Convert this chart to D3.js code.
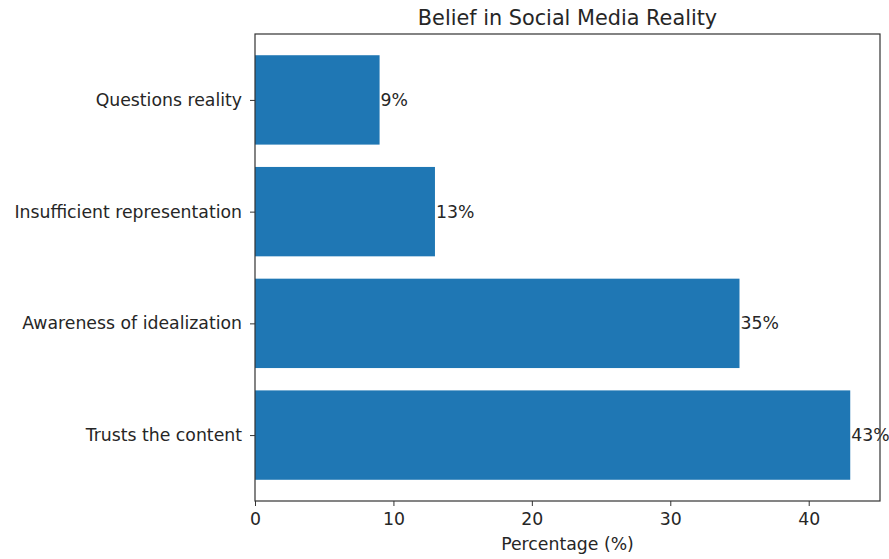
<!DOCTYPE html>
<html><head><meta charset="utf-8">
<script src="https://cdn.jsdelivr.net/npm/d3@7"></script>
<style>body{margin:0;background:#fff}svg{display:block}text{font-family:"DejaVu Sans",sans-serif;fill:#262626}</style>
</head><body>
<script>
const categories = ["Trusts the content","Awareness of idealization","Insufficient representation","Questions reality"];
const values = [43,35,13,9];
const xTicks = [0,10,20,30,40];
const title = "Belief in Social Media Reality";
const xLabel = "Percentage (%)";

const W=889,H=559;
const L=255,R=880,T=34,B=501;
const FS=17.3;
const svg=d3.select("body").append("svg").attr("width",W).attr("height",H);
const xMax=d3.max(values)*1.05;
const x=d3.scaleLinear().domain([0,xMax]).range([L,R]);
const n=categories.length;
const y=d3.scaleLinear().domain([-0.4-0.05*(n-0.2),n-0.6+0.05*(n-0.2)]).range([B,T]);
const bh=0.8;

svg.append("g").selectAll("rect").data(values).join("rect")
 .attr("x",x(0)).attr("y",(d,i)=>y(i+bh/2)).attr("width",d=>x(d)-x(0))
 .attr("height",(d,i)=>y(i-bh/2)-y(i+bh/2)).attr("fill","#1f77b4");

svg.append("g").selectAll("text").data(values).join("text")
 .attr("x",d=>x(d)+1).attr("y",(d,i)=>y(i)).attr("dy","0.35em")
 .style("font-size",FS+"px").text(d=>d+"%");

const xa=svg.append("g").attr("transform",`translate(0,${B})`)
 .call(d3.axisBottom(x).tickValues(xTicks).tickSize(5).tickPadding(7).tickFormat(d3.format("d")));
xa.select(".domain").remove();
xa.selectAll("text").style("font-size",FS+"px").style("font-family","DejaVu Sans").attr("fill","#262626");
xa.selectAll("line").attr("stroke","#333");

const ya=svg.append("g").attr("transform",`translate(${L},0)`)
 .call(d3.axisLeft(y).tickValues(d3.range(n)).tickSize(5).tickPadding(8).tickFormat(i=>categories[i]));
ya.select(".domain").remove();
ya.selectAll("text").style("font-size",FS+"px").style("font-family","DejaVu Sans").attr("fill","#262626");
ya.selectAll("line").attr("stroke","#333");

svg.append("rect").attr("x",L).attr("y",T).attr("width",R-L).attr("height",B-T)
 .attr("fill","none").attr("stroke","#333").attr("stroke-width",1.2);

svg.append("text").attr("x",(L+R)/2).attr("y",25).attr("text-anchor","middle")
 .style("font-size","20.8px").text(title);
svg.append("text").attr("x",(L+R)/2).attr("y",550).attr("text-anchor","middle")
 .style("font-size",FS+"px").text(xLabel);
</script>
</body></html>
